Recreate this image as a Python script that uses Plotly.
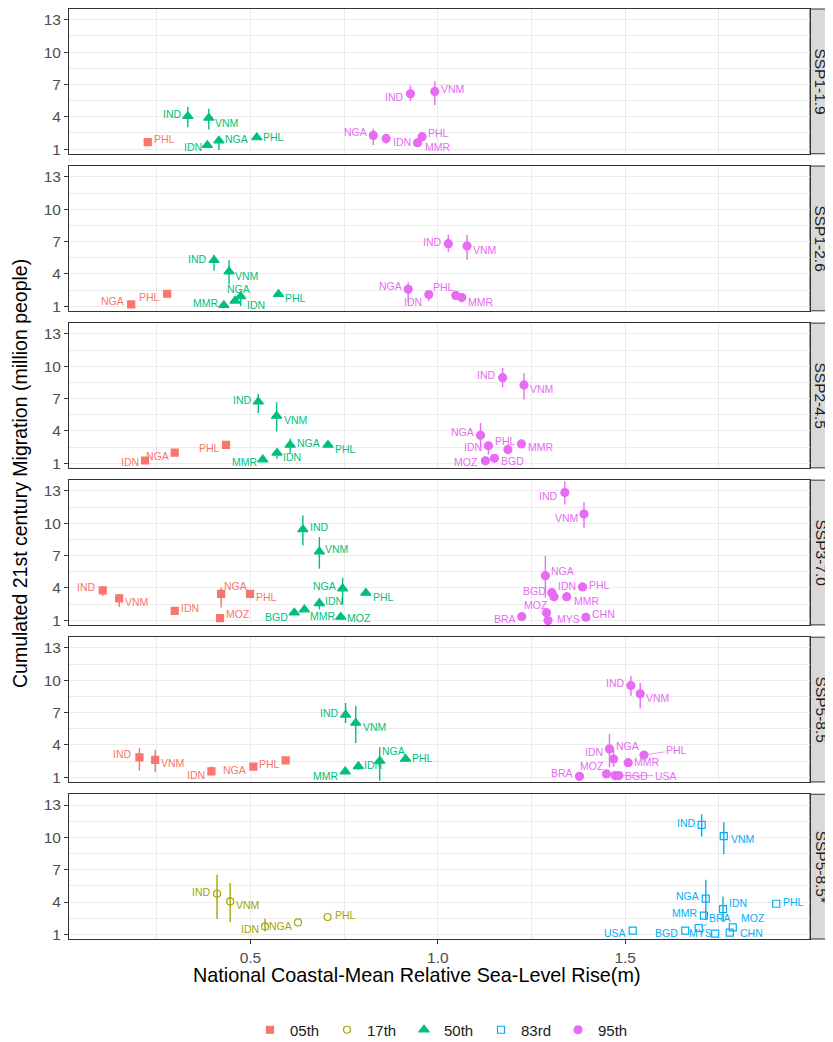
import plotly.graph_objects as go
from plotly.subplots import make_subplots

SCENARIOS = ["SSP1-1.9", "SSP1-2.6", "SSP2-4.5", "SSP3-7.0", "SSP5-8.5", "SSP5-8.5*"]
PERCENTILES = ["05th", "17th", "50th", "83rd", "95th"]
X_TICKS = [0.5, 1.0, 1.5]
X_TICKTEXT = ["0.5", "1.0", "1.5"]
Y_TICKS = [1, 4, 7, 10, 13]
X_TITLE = "National Coastal-Mean Relative Sea-Level Rise(m)"
Y_TITLE = "Cumulated 21st century Migration (million people)"

# ---- SSP1-1.9 ----
ssp119_iso = ["PHL", "IND", "VNM", "IDN", "NGA", "PHL", "IND", "VNM", "NGA", "IDN", "PHL", "MMR"]
ssp119_pct = ["05th", "50th", "50th", "50th", "50th", "50th", "95th", "95th", "95th", "95th", "95th", "95th"]
ssp119_slr = [0.226, 0.333, 0.389, 0.385, 0.416, 0.517, 0.927, 0.992, 0.828, 0.862, 0.958, 0.946]
ssp119_mig = [1.65, 4.06, 3.90, 1.36, 1.78, 2.08, 6.13, 6.34, 2.27, 1.99, 2.15, 1.59]
ssp119_lo = [1.65, 3.04, 2.82, 1.36, 0.91, 2.08, 5.44, 5.07, 1.37, 1.50, 2.15, 1.59]
ssp119_hi = [1.65, 4.93, 4.74, 1.36, 2.20, 2.08, 6.90, 7.30, 2.90, 2.20, 2.15, 1.59]

# ---- SSP1-2.6 ----
ssp126_iso = ["NGA", "PHL", "IND", "VNM", "NGA", "IDN", "MMR", "PHL", "NGA", "IDN", "PHL", "MMR", "IND", "VNM"]
ssp126_pct = ["05th", "05th", "50th", "50th", "50th", "50th", "50th", "50th", "95th", "95th", "95th", "95th", "95th", "95th"]
ssp126_slr = [0.182, 0.278, 0.403, 0.443, 0.474, 0.459, 0.429, 0.575, 0.921, 0.976, 1.048, 1.064, 1.028, 1.078]
ssp126_mig = [1.16, 2.15, 5.26, 4.21, 1.90, 1.50, 1.09, 2.11, 2.57, 2.08, 2.00, 1.80, 6.80, 6.59]
ssp126_lo = [1.16, 2.15, 4.28, 3.00, 1.00, 1.50, 1.09, 2.11, 1.30, 1.46, 2.00, 1.80, 6.06, 5.30]
ssp126_hi = [1.16, 2.15, 5.76, 5.26, 2.25, 1.50, 1.09, 2.11, 3.23, 2.08, 2.00, 1.80, 7.60, 7.60]

# ---- SSP2-4.5 ----
ssp245_iso = ["IDN", "NGA", "PHL", "IND", "VNM", "NGA", "IDN", "MMR", "PHL",
              "IND", "VNM", "NGA", "IDN", "PHL", "MMR", "MOZ", "BGD"]
ssp245_pct = ["05th", "05th", "05th", "50th", "50th", "50th", "50th", "50th", "50th",
              "95th", "95th", "95th", "95th", "95th", "95th", "95th", "95th"]
ssp245_slr = [0.219, 0.298, 0.435, 0.521, 0.570, 0.606, 0.571, 0.533, 0.707,
              1.173, 1.230, 1.114, 1.135, 1.187, 1.223, 1.127, 1.151]
ssp245_mig = [1.25, 1.99, 2.70, 6.71, 5.39, 2.70, 1.96, 1.34, 2.70,
              8.94, 8.26, 3.59, 2.61, 2.27, 2.79, 1.22, 1.46]
ssp245_lo = [1.25, 1.99, 2.70, 5.67, 3.94, 1.96, 1.41, 1.34, 2.70,
             8.04, 6.90, 2.43, 1.81, 2.27, 2.79, 1.22, 1.46]
ssp245_hi = [1.25, 1.99, 2.70, 7.45, 6.65, 3.30, 2.33, 1.34, 2.70,
             9.83, 9.37, 4.74, 3.04, 2.27, 2.79, 1.22, 1.46]

# ---- SSP3-7.0 ----
ssp370_iso = ["IND", "VNM", "IDN", "NGA", "MOZ", "PHL",
              "IND", "VNM", "NGA", "IDN", "BGD", "MMR", "MOZ", "PHL",
              "IND", "VNM", "NGA", "BGD", "IDN", "PHL", "MMR", "MOZ", "BRA", "MYS", "CHN"]
ssp370_pct = ["05th"] * 6 + ["50th"] * 8 + ["95th"] * 11
ssp370_slr = [0.106, 0.150, 0.298, 0.422, 0.419, 0.499,
              0.640, 0.684, 0.746, 0.684, 0.617, 0.644, 0.741, 0.808,
              1.339, 1.390, 1.287, 1.304, 1.310, 1.386, 1.344, 1.290, 1.224, 1.294, 1.395]
ssp370_mig = [3.78, 3.04, 1.87, 3.44, 1.19, 3.44,
              9.43, 7.36, 3.94, 2.57, 1.71, 1.99, 1.31, 3.54,
              12.85, 10.85, 5.14, 3.56, 3.19, 4.09, 3.19, 1.69, 1.34, 0.97, 1.28]
ssp370_lo = [3.26, 2.24, 1.56, 2.18, 1.19, 3.44,
             7.94, 5.79, 2.48, 2.02, 1.71, 1.99, 1.31, 3.54,
             11.74, 9.58, 3.10, 3.56, 3.19, 4.09, 3.19, 1.69, 1.34, 0.97, 1.28]
ssp370_hi = [4.12, 3.41, 1.87, 4.03, 1.19, 3.44,
             10.72, 8.72, 4.95, 3.04, 1.71, 1.99, 1.31, 3.54,
             13.90, 11.96, 6.96, 3.56, 3.19, 4.09, 3.19, 1.69, 1.34, 0.97, 1.28]

# ---- SSP5-8.5 ----
ssp585_iso = ["IND", "VNM", "IDN", "NGA", "PHL",
              "IND", "VNM", "MMR", "IDN", "NGA", "PHL",
              "IND", "VNM", "NGA", "IDN", "PHL", "MMR", "MOZ", "BRA", "BGD", "USA"]
ssp585_pct = ["05th"] * 5 + ["50th"] * 6 + ["95th"] * 10
ssp585_slr = [0.204, 0.246, 0.396, 0.508, 0.594,
              0.754, 0.781, 0.753, 0.788, 0.845, 0.914,
              1.515, 1.540, 1.458, 1.469, 1.550, 1.508, 1.450, 1.378, 1.473, 1.483]
ssp585_mig = [2.85, 2.61, 1.56, 1.99, 2.57,
              6.80, 6.04, 1.53, 2.02, 2.52, 2.70,
              9.52, 8.75, 3.63, 2.70, 3.07, 2.36, 1.31, 1.09, 1.16, 1.16]
ssp585_lo = [1.62, 1.46, 1.16, 1.99, 2.57,
             6.04, 4.18, 1.53, 1.70, 0.69, 2.70,
             8.56, 7.39, 1.93, 1.96, 3.07, 2.36, 1.31, 1.09, 1.16, 1.16]
ssp585_hi = [3.72, 3.56, 2.02, 1.99, 2.57,
             7.89, 7.64, 1.53, 2.30, 3.78, 2.70,
             10.40, 9.74, 5.02, 3.60, 3.07, 2.36, 1.31, 1.09, 1.16, 1.16]

# ---- SSP5-8.5* ----
ssp585s_iso = ["IND", "VNM", "IDN", "NGA", "PHL",
               "IND", "VNM", "NGA", "IDN", "MMR", "BRA", "BGD", "MYS", "MOZ", "CHN", "USA", "PHL"]
ssp585s_pct = ["17th"] * 5 + ["83rd"] * 12
ssp585s_slr = [0.411, 0.446, 0.539, 0.627, 0.706,
               1.704, 1.763, 1.715, 1.761, 1.710, 1.696, 1.660, 1.740, 1.787, 1.779, 1.520, 1.903]
ssp585s_mig = [4.77, 4.06, 1.74, 2.11, 2.61,
               11.16, 10.11, 4.31, 3.35, 2.73, 1.59, 1.34, 1.06, 1.65, 1.16, 1.34, 3.84]
ssp585s_lo = [2.43, 2.15, 1.28, 2.11, 2.61,
              10.07, 8.44, 2.36, 2.20, 2.73, 1.59, 1.34, 1.06, 1.65, 1.16, 1.34, 3.84]
ssp585s_hi = [6.53, 5.76, 2.45, 2.11, 2.61,
              12.15, 11.40, 6.06, 4.52, 2.73, 1.59, 1.34, 1.06, 1.65, 1.16, 1.34, 3.84]

# ---- label placement (style only: pixel offsets dx, dy-up, anchor) ----
L, R, C, S = "left", "right", "center", "seg"
lab119 = [(5, 3, L), (-5, 2, R), (5, -5, L), (-4, -2, R), (5, 2, L), (5, 0, L),
          (-5, -3, R), (5, 3, L), (-5, 3, R), (6, -4, L), (5, 4, L), (6, -4, L)]
lab126 = [(-6, 3, R), (-6, -3, R), (-6, 1, R), (5, -4, L), (-2, 7, C), (11, -4, L), (-5, 2, R),
          (5, -4, L), (-5, 3, R), (-6, -7, R), (-1, 8, R), (5, -4, L), (-5, 2, R), (5, -4, L)]
lab245 = [(-5, -1, R), (-5, -3, R), (-5, -3, R), (-5, 2, R), (6, -4, L), (6, 2, L), (5, -4, L),
          (-5, -2, R), (6, -4, L), (-6, 3, R), (5, -4, L), (-6, 3, R), (-5, -1, R), (-2, 9, C),
          (6, -3, L), (-6, -1, R), (6, -3, L)]
lab370 = [(-6, 3, R), (5, -4, L), (5, 3, L), (2, 8, L), (5, 4, L), (5, -3, L),
          (6, 2, L), (5, 3, L), (-6, 3, R), (5, 2, L), (-5, -4, R), (5, -6, L), (5, -1, L), (6, -4, L),
          (-6, -3, R), (-5, -4, R), (5, 5, L), (-5, 2, R), (3, 11, L), (6, 2, L), (6, -4, L),
          (2, 8, R), (-5, -2, R), (8, 2, L), (5, 3, L)]
lab585 = [(-6, 3, R), (5, -3, L), (-5, -4, R), (-6, -3, R), (-5, -4, R),
          (-6, 2, R), (6, -4, L), (-6, -4, R), (5, 1, L), (1, 10, L), (5, 1, L),
          (-5, 2, R), (5, -4, L), (6, 3, L), (-10, 7, R), (33, 5, S), (5, 1, L), (-1, 8, R),
          (-5, 3, R), (9, 0, L), (47, 0, S)]
lab585s = [(-5, 2, R), (5, -4, L), (-5, -3, R), (-5, -4, R), (6, 2, L),
           (-5, 2, R), (6, -3, L), (-6, 3, R), (5, 6, L), (-6, 3, R), (21, 10, S), (-6, -2, R),
           (-2, 1, R), (7, 9, L), (9, 0, L), (-6, -2, R), (6, 2, L)]

PANELS = [
    (ssp119_iso, ssp119_pct, ssp119_slr, ssp119_mig, ssp119_lo, ssp119_hi, lab119),
    (ssp126_iso, ssp126_pct, ssp126_slr, ssp126_mig, ssp126_lo, ssp126_hi, lab126),
    (ssp245_iso, ssp245_pct, ssp245_slr, ssp245_mig, ssp245_lo, ssp245_hi, lab245),
    (ssp370_iso, ssp370_pct, ssp370_slr, ssp370_mig, ssp370_lo, ssp370_hi, lab370),
    (ssp585_iso, ssp585_pct, ssp585_slr, ssp585_mig, ssp585_lo, ssp585_hi, lab585),
    (ssp585s_iso, ssp585s_pct, ssp585s_slr, ssp585s_mig, ssp585s_lo, ssp585s_hi, lab585s),
]

COLORS = {"05th": "#F8766D", "17th": "#A3A500", "50th": "#00BF7D", "83rd": "#00B0F6", "95th": "#E76BF3"}
SYMBOLS = {"05th": "square", "17th": "circle-open", "50th": "triangle-up", "83rd": "square-open", "95th": "circle"}
MSIZE = {"05th": 7, "17th": 7, "50th": 9, "83rd": 7, "95th": 8}
FONT = "Liberation Sans, Arial, Helvetica, sans-serif"

# page body has an 8px margin: figure is offset to compensate; extra height keeps the
# legend from pushing the margins (the overflow lies outside the window)
OFF = 8
W, H = 825, 1050
PW, PH = 741, 930
ML, MT = 69 - OFF, 9 - OFF
MR = W - ML - PW
MB = H - MT - PH
GAP = 12.3
STRIP_W = 22

fig = make_subplots(rows=6, cols=1, shared_xaxes=True, vertical_spacing=GAP / PH)

shown = set()
annotations = []
shapes = []
for r, (iso, pct, slr, mig, lo, hi, lab) in enumerate(PANELS, start=1):
    for p in PERCENTILES:
        idx = [i for i, q in enumerate(pct) if q == p]
        if not idx:
            continue
        col = COLORS[p]
        fig.add_trace(go.Scatter(
            x=[slr[i] for i in idx], y=[mig[i] for i in idx],
            mode="markers", name=p, legendgroup=p, showlegend=p not in shown,
            legendrank=PERCENTILES.index(p),
            marker=dict(symbol=SYMBOLS[p], size=MSIZE[p], color=col, line=dict(color=col, width=1.2)),
            error_y=dict(type="data", symmetric=False,
                         array=[hi[i] - mig[i] for i in idx],
                         arrayminus=[mig[i] - lo[i] for i in idx],
                         color=col, thickness=1.4, width=0),
            hoverinfo="skip",
        ), row=r, col=1)
        shown.add(p)
    xr = "x" if r == 1 else f"x{r}"
    yr = "y" if r == 1 else f"y{r}"
    for i, name in enumerate(iso):
        dx, dy, anc = lab[i]
        col = COLORS[pct[i]]
        if anc == S:
            annotations.append(dict(x=slr[i], y=mig[i], xref=xr, yref=yr, text=name,
                                    showarrow=True, arrowhead=0, arrowwidth=0.7, arrowcolor=col,
                                    ax=dx, ay=-dy, standoff=3,
                                    font=dict(family=FONT, size=10.5, color=col)))
        else:
            annotations.append(dict(x=slr[i], y=mig[i], xref=xr, yref=yr, text=name,
                                    showarrow=False, xanchor=anc, yanchor="middle",
                                    xshift=dx, yshift=dy, borderpad=0,
                                    font=dict(family=FONT, size=10.5, color=col)))
    # facet strip on the right
    shapes.append(dict(type="rect", xref="paper", yref=f"{yr} domain",
                       x0=1.0, x1=1.0 + STRIP_W / PW, y0=0, y1=1,
                       fillcolor="#D9D9D9", line=dict(color="#333333", width=1), layer="below"))
    annotations.append(dict(xref="paper", yref=f"{yr} domain", x=1.0 + STRIP_W / 2 / PW, y=0.5,
                            text=SCENARIOS[r - 1], showarrow=False, textangle=90,
                            xanchor="center", yanchor="middle",
                            font=dict(family=FONT, size=15.5, color="#1A1A1A")))

    fig.update_yaxes(row=r, col=1, range=[0.57, 14.0], tickvals=Y_TICKS,
                     ticks="outside", ticklen=4, tickcolor="#333333", tickwidth=1,
                     tickfont=dict(family=FONT, size=15.5, color="#4D4D4D"),
                     showgrid=True, gridcolor="#EBEBEB", gridwidth=1.3, zeroline=False,
                     minor=dict(tick0=2.5, dtick=3, showgrid=True, gridcolor="#EBEBEB", gridwidth=0.6, ticks=""),
                     showline=True, mirror=True, linecolor="#333333", linewidth=1, automargin=False)
    fig.update_xaxes(row=r, col=1, range=[0.016, 1.993], tickvals=X_TICKS, ticktext=X_TICKTEXT,
                     ticks="outside" if r == 6 else "", ticklen=4, tickcolor="#333333",
                     showticklabels=(r == 6),
                     tickfont=dict(family=FONT, size=15.5, color="#4D4D4D"),
                     showgrid=True, gridcolor="#EBEBEB", gridwidth=1.3, zeroline=False,
                     minor=dict(tick0=0.25, dtick=0.5, showgrid=True, gridcolor="#EBEBEB", gridwidth=0.6, ticks=""),
                     showline=True, mirror=True, linecolor="#333333", linewidth=1, automargin=False)

annotations.append(dict(xref="paper", yref="paper", x=(416.5 - OFF - ML) / PW, y=-36 / PH, text=X_TITLE,
                        showarrow=False, xanchor="center", yanchor="middle",
                        font=dict(family=FONT, size=19.8, color="#000000")))
annotations.append(dict(xref="paper", yref="paper", x=(20 - OFF - ML) / PW, y=0.5, text=Y_TITLE,
                        showarrow=False, xanchor="center", yanchor="middle", textangle=-90,
                        font=dict(family=FONT, size=19.5, color="#000000")))

fig.update_layout(
    width=W, height=H, autosize=False,
    margin=dict(l=ML, r=MR, t=MT, b=MB, pad=0),
    paper_bgcolor="white", plot_bgcolor="white",
    font=dict(family=FONT),
    annotations=annotations, shapes=shapes,
    showlegend=True,
    legend=dict(orientation="h", x=(250 - OFF - ML) / PW, xanchor="left", y=-91 / PH, yanchor="middle",
                font=dict(family=FONT, size=15, color="#1A1A1A"), itemwidth=30,
                entrywidth=32, entrywidthmode="pixels", traceorder="normal"),
)

fig.write_html("out.html")
